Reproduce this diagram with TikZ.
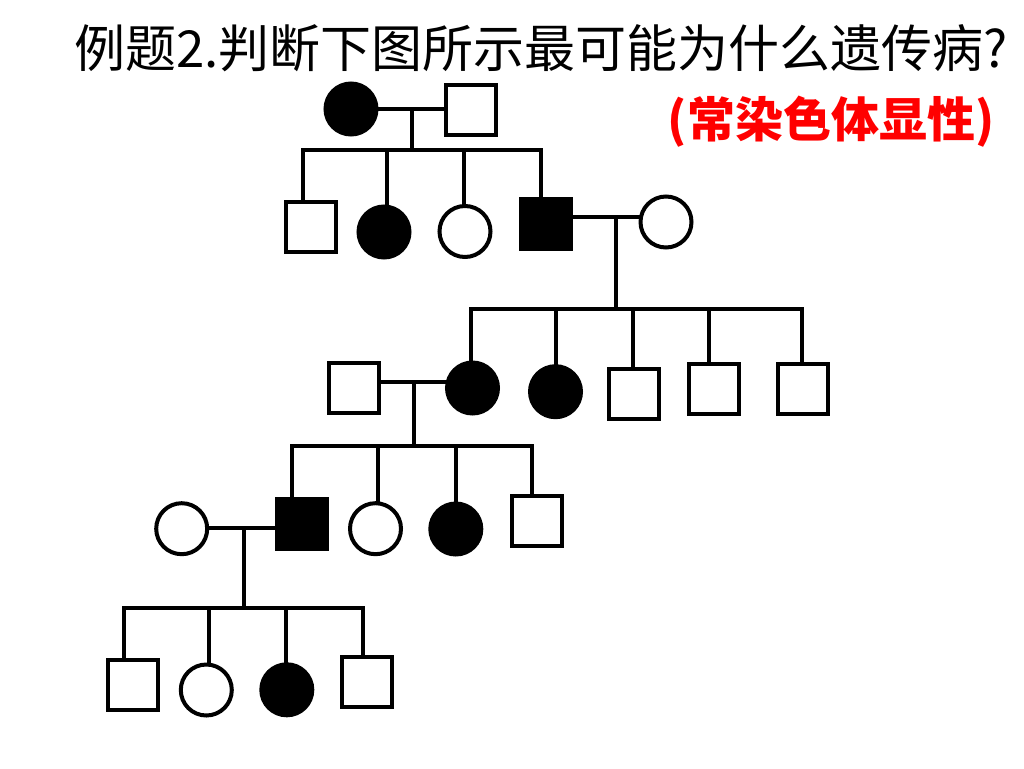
\documentclass[tikz,border=0pt]{standalone}
\usepackage{fontspec}
\newfontfamily\cjk{Noto Sans CJK SC}

\begin{document}
\begin{tikzpicture}[x=1pt,y=-1pt,line width=4pt,line cap=rect,
    male/.style={draw,rectangle,minimum size=50pt,inner sep=0pt},
    female/.style={draw,circle,minimum size=51pt,inner sep=0pt},
    ill/.style={fill=black}]
  \useasboundingbox (0,0) rectangle (1024,768);
  \node[font=\cjk\fontsize{51}{60}\selectfont] (title) at (541,48) {例题2.判断下图所示最可能为什么遗传病?};
  \node[font=\cjk\bfseries\fontsize{48}{58}\selectfont,text=red] (answer) at (831,122) {(常染色体显性)};

  % generation I
  \node[female,ill] (a1) at (351,109) {};
  \node[male] (a2) at (470.5,109.5) {};
  % generation II
  \node[male] (b1) at (311,227) {};
  \node[female,ill] (b2) at (384,232) {};
  \node[female] (b3) at (465,231.5) {};
  \node[male,ill] (b4) at (545.5,224) {};
  \node[female] (b5) at (666,222) {};
  % generation III
  \node[male] (c1) at (354,388) {};
  \node[female,ill] (c2) at (472.5,388) {};
  \node[female,ill] (c3) at (555.5,391.7) {};
  \node[male] (c4) at (633.7,394) {};
  \node[male] (c5) at (714,389) {};
  \node[male] (c6) at (803,389) {};
  % generation IV
  \node[female] (d1) at (181.7,528.7) {};
  \node[male,ill] (d2) at (302,524) {};
  \node[female] (d3) at (375.5,528.7) {};
  \node[female,ill] (d4) at (455.8,529) {};
  \node[male] (d5) at (536.7,520.7) {};
  % generation V
  \node[male] (e1) at (133,685) {};
  \node[female] (e2) at (206.3,690) {};
  \node[female,ill] (e3) at (286.8,689.8) {};
  \node[male] (e4) at (367.3,681.7) {};

  % marriages
  \coordinate (m1) at (411.5,109);
  \coordinate (m2) at (616,217);
  \coordinate (m3) at (414.3,382);
  \coordinate (m4) at (244.3,527.7);
  \draw (a1.east |- m1) -- (a2.west |- m1);
  \draw (b4.east |- m2) -- (b5.west |- m2);
  \draw (c1.east |- m3) -- (c2.west |- m3);
  \draw (d1.east |- m4) -- (d2.west |- m4);

  % sibships
  \draw (m1) -- (m1 |- 0,150);
  \draw (302.7,150) -- (541,150);
  \foreach \k/\x in {b1/302.7,b2/387,b3/464,b4/541}
    \draw (\x,150) -- (\x,150 |- \k.north);

  \draw (m2) -- (m2 |- 0,309);
  \draw (470.7,309) -- (801.7,309);
  \foreach \k/\x in {c2/470.7,c3/556,c4/633.3,c5/709.3,c6/801.7}
    \draw (\x,309) -- (\x,309 |- \k.north);

  \draw (m3) -- (m3 |- 0,445.7);
  \draw (292.3,445.7) -- (532.3,445.7);
  \foreach \k/\x in {d2/292.3,d3/378.3,d4/455.7,d5/532.3}
    \draw (\x,445.7) -- (\x,445.7 |- \k.north);

  \draw (m4) -- (m4 |- 0,607.7);
  \draw (124,607.7) -- (363.3,607.7);
  \foreach \k/\x in {e1/124,e2/209.3,e3/286,e4/363.3}
    \draw (\x,607.7) -- (\x,607.7 |- \k.north);
\end{tikzpicture}
\end{document}
